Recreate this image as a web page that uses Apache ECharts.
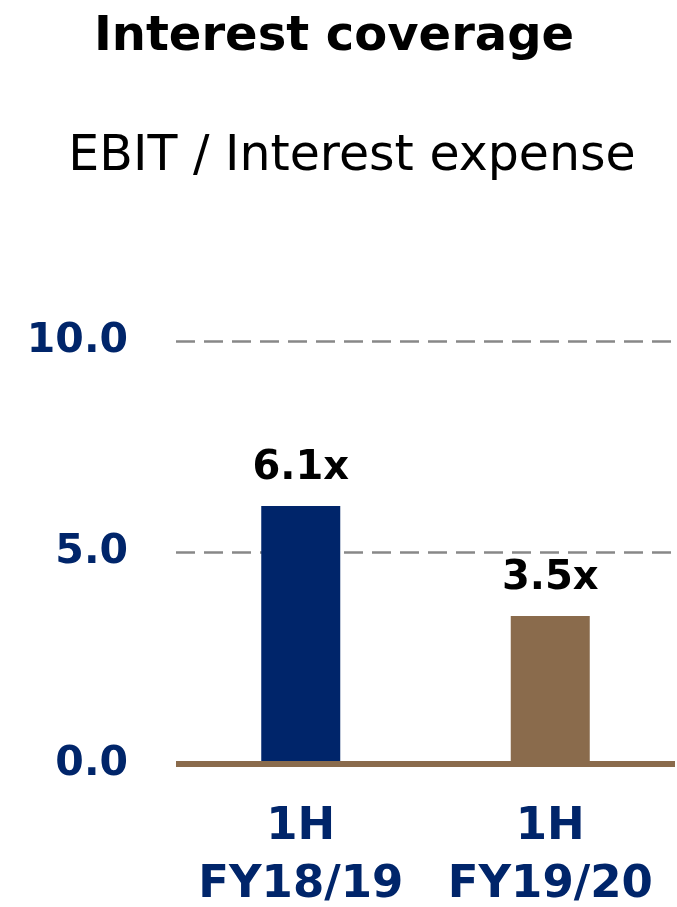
<!DOCTYPE html>
<html>
<head>
<meta charset="utf-8">
<script src="https://cdn.jsdelivr.net/npm/echarts@6/dist/echarts.min.js"></script>
<style>
html,body{margin:0;padding:0;background:#fff;}
#chart{width:677px;height:907px;}
</style>
</head>
<body>
<div id="chart"></div>
<script>
const titleText = "Interest coverage";
const subtitleText = "EBIT / Interest expense";
const categories = ["1H\nFY18/19", "1H\nFY19/20"];
const values = [6.1, 3.5];
const barColors = ["#00256A", "#8A6B4C"];
const yTicks = [0, 5, 10];

const chart = echarts.init(document.getElementById('chart'), null, {renderer: 'canvas'});
const FONT = "'DejaVu Sans', Verdana, sans-serif";
chart.setOption({
  animation: false,
  backgroundColor: '#ffffff',
  title: [
    {text: titleText, left: 329, top: 33, textAlign: 'center', textVerticalAlign: 'middle',
     textStyle: {fontFamily: FONT, fontWeight: 'bold', fontSize: 48, color: '#000'}},
    {text: subtitleText, left: 347, top: 152, textAlign: 'center', textVerticalAlign: 'middle',
     textStyle: {fontFamily: FONT, fontWeight: 'normal', fontSize: 49, color: '#000'}}
  ],
  grid: {left: 176, right: 2, top: 341, bottom: 143, containLabel: false, outerBoundsMode: 'none'},
  xAxis: {
    type: 'category',
    z: 5,
    data: categories,
    axisLine: {show: true, lineStyle: {color: '#8A6B4C', width: 6, cap: 'butt'}},
    axisTick: {show: false},
    axisLabel: {interval: 0, fontFamily: FONT, fontWeight: 'bold', fontSize: 45, color: '#00256A',
      lineHeight: 58, margin: 34}
  },
  yAxis: {
    type: 'value',
    min: yTicks[0], max: yTicks[yTicks.length - 1], interval: yTicks[1] - yTicks[0],
    axisLine: {show: false},
    axisTick: {show: false},
    axisLabel: {fontFamily: FONT, fontWeight: 'bold', fontSize: 41, color: '#00256A',
      margin: 48, formatter: v => v.toFixed(1)},
    splitLine: {show: true, lineStyle: {color: '#888888', width: 2.5, type: [19, 9]}}
  },
  series: [{
    type: 'bar',
    barWidth: 79,
    data: values.map((v, i) => ({value: v, itemStyle: {color: barColors[i]}})),
    label: {show: true, position: 'top', distance: 17,
      fontFamily: FONT, fontWeight: 'bold', fontSize: 40, color: '#000',
      formatter: p => p.value.toFixed(1) + 'x'}
  }]
});
</script>
</body>
</html>
